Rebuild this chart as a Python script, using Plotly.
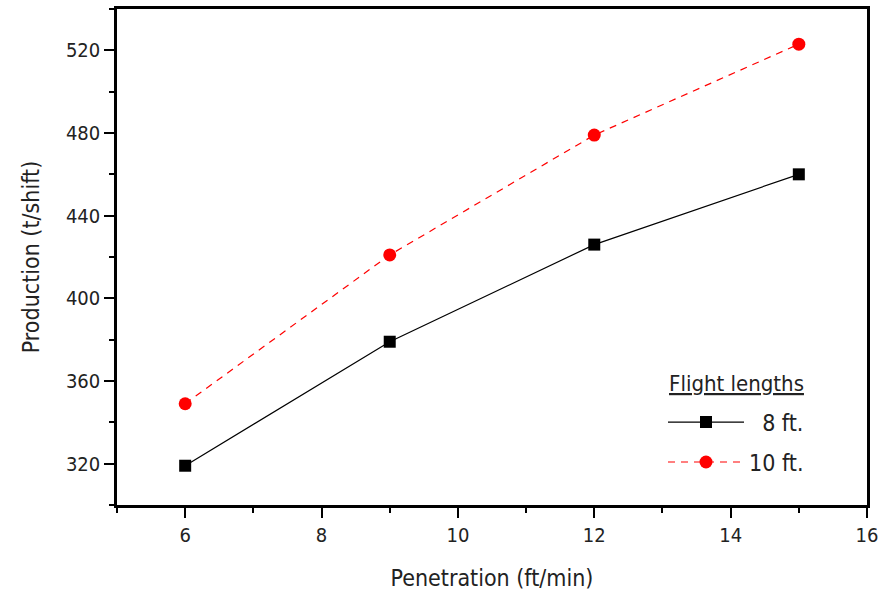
import plotly.graph_objects as go

penetration = [6, 9, 12, 15]
prod_8ft = [319, 379, 426, 460]
prod_10ft = [349, 421, 479, 523]
series_names = ["8 ft.", "10 ft."]
legend_title = "Flight lengths"
x_ticks = [6, 8, 10, 12, 14, 16]
y_ticks = [320, 360, 400, 440, 480, 520]

FONT = "Liberation Sans Narrow, DejaVu Sans Condensed, sans-serif"

fig = go.Figure()
fig.add_trace(go.Scatter(
    x=penetration, y=prod_8ft, name="&nbsp;&nbsp;" + series_names[0], mode="lines+markers",
    legendgroup="a",
    line=dict(color="black", width=1.2),
    marker=dict(symbol="square", size=12, color="black"),
))
fig.add_trace(go.Scatter(
    x=penetration, y=prod_10ft, name=series_names[1], mode="lines+markers",
    legendgroup="b",
    line=dict(color="red", width=1.2, dash="7px,6px"),
    marker=dict(symbol="circle", size=13, color="red"),
))

axis_common = dict(
    showline=True, linecolor="black", linewidth=2.5, mirror=True,
    ticks="outside", ticklen=10, tickwidth=2, tickcolor="black",
    showgrid=False, zeroline=False,
    tickfont=dict(family=FONT, size=20, color="#222"),
    title_font=dict(family=FONT, size=23, color="#222"),
)

fig.update_xaxes(
    range=[5, 16], tickvals=x_ticks, title_text="Penetration (ft/min)",
    minor=dict(ticks="outside", ticklen=5, tickwidth=2, tickcolor="black", dtick=1, tick0=5),
    title_standoff=25, **axis_common,
)
fig.update_yaxes(
    range=[300, 540], tickvals=y_ticks, title_text="Production (t/shift)",
    minor=dict(ticks="outside", ticklen=5, tickwidth=2, tickcolor="black", dtick=20, tick0=300),
    title_standoff=20, **axis_common,
)

fig.add_annotation(
    text="<u>" + legend_title + "</u>", xref="paper", yref="paper",
    x=0.733, y=0.2445, xanchor="left", yanchor="middle", showarrow=False,
    font=dict(family=FONT, size=22, color="#222"),
)

fig.update_layout(
    width=884, height=594,
    margin=dict(l=117, r=15, t=6, b=89),
    plot_bgcolor="white", paper_bgcolor="white",
    showlegend=True,
    legend=dict(
        font=dict(family=FONT, size=23, color="#222"),
        x=0.728, y=0.2104, xanchor="left", yanchor="top",
        bgcolor="rgba(0,0,0,0)", itemwidth=76, tracegroupgap=7,
    ),
)

fig.write_html("out.html")
